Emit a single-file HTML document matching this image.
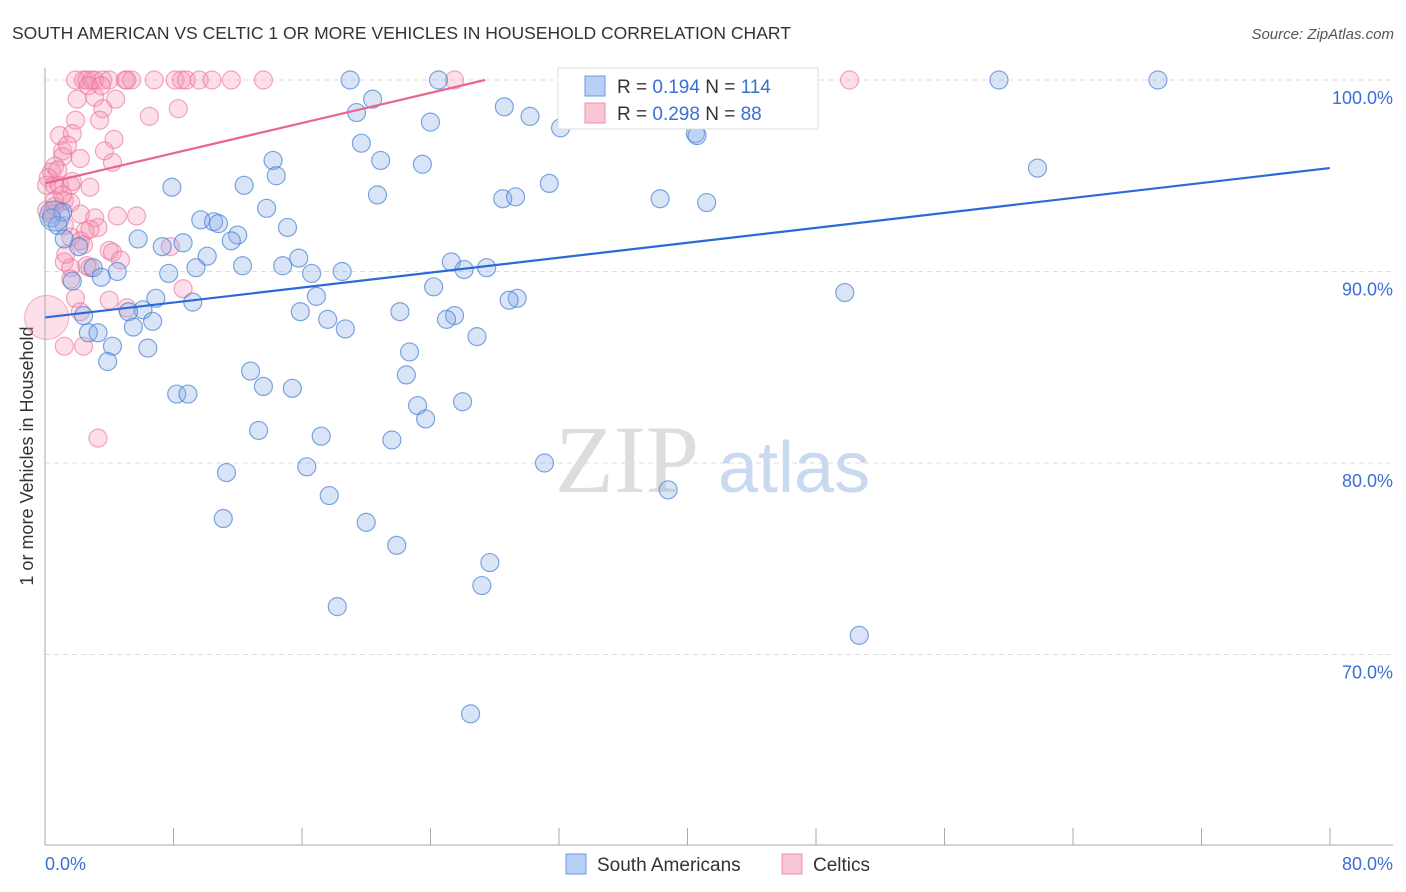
<!DOCTYPE html>
<html><head><meta charset="utf-8"><style>
body{margin:0;background:#fff;font-family:"Liberation Sans",sans-serif}
#wrap{position:relative;width:1406px;height:892px;overflow:hidden}
</style></head><body>
<div id="wrap">
<svg id="svg" width="1406" height="892" xmlns="http://www.w3.org/2000/svg">
<text x="12" y="39" font-size="17.5" fill="#333">SOUTH AMERICAN VS CELTIC 1 OR MORE VEHICLES IN HOUSEHOLD CORRELATION CHART</text>
<text x="1394" y="39" font-size="15" fill="#555" font-style="italic" text-anchor="end">Source: ZipAtlas.com</text>
<text transform="translate(33,456) rotate(-90)" font-size="18" fill="#333" text-anchor="middle">1 or more Vehicles in Household</text>
<g id="grid"></g>
<text x="555" y="492" font-size="96" fill="#ddd" font-family="Liberation Serif,serif">ZIP</text>
<text x="718" y="492" font-size="72" fill="#c9d9f0">atlas</text>
<g id="pts"></g>
<g id="lines"></g>
<line x1="45" y1="68" x2="45" y2="845" stroke="#aaa"/>
<line x1="45" y1="845" x2="1393" y2="845" stroke="#aaa"/>
<g id="xt"></g>
<text x="45" y="870" font-size="18" fill="#3b6fd4">0.0%</text>
<text x="1393" y="870" font-size="18" fill="#3b6fd4" text-anchor="end">80.0%</text>
<g>
<rect x="558" y="68" width="260" height="61" fill="#fff" stroke="#ddd"/>
<rect x="585" y="76" width="20" height="20" fill="#b8d0f5" stroke="#6a98e0"/>
<rect x="585" y="103" width="20" height="20" fill="#f9c6d6" stroke="#ec8fae"/>
<text x="617" y="93" font-size="19" fill="#333">R = <tspan fill="#3b6fd4">0.194</tspan>   N = <tspan fill="#3b6fd4">114</tspan></text>
<text x="617" y="120" font-size="19" fill="#333">R = <tspan fill="#3b6fd4">0.298</tspan>   N = <tspan fill="#3b6fd4"> 88</tspan></text>
</g>
<g>
<rect x="566" y="854" width="20" height="20" fill="#b8d0f5" stroke="#6a98e0"/>
<text x="597" y="871" font-size="19" fill="#333">South Americans</text>
<rect x="782" y="854" width="20" height="20" fill="#f9c6d6" stroke="#ec8fae"/>
<text x="813" y="871" font-size="19" fill="#333">Celtics</text>
</g>
</svg>
</div>
<script>
const blueX=[19.0,24.5,32.6,38.8,59.4,69.3,42.4,20.4,19.4,28.6,30.2,24.0,32.1,40.5,40.6,19.7,20.9,14.2,23.5,14.4,61.8,31.4,7.9,12.4,20.7,28.5,29.3,38.3,41.2,13.8,1.1,0.4,9.7,10.5,10.8,15.1,0.8,1.2,5.8,12.0,11.6,8.6,2.1,7.3,10.1,15.8,25.3,12.3,14.8,9.4,3.0,4.5,7.7,16.6,18.5,26.1,27.5,1.7,3.5,24.2,6.9,9.2,16.9,29.4,28.9,49.8,15.9,22.1,6.1,5.2,25.5,25.0,17.6,6.7,2.4,5.5,18.7,2.7,3.3,26.9,4.2,6.4,22.7,3.9,12.8,22.5,13.6,15.4,8.2,8.9,26.0,23.2,23.7,13.3,17.2,21.6,31.1,16.3,11.3,38.8,17.7,11.1,20.0,21.9,27.7,27.2,18.2,50.7,26.5];
const blueY=[100,100,100,100,100,100,98.6,99.0,98.3,98.6,98.1,97.8,97.5,97.2,97.1,96.7,95.8,95.8,95.6,95.0,95.4,94.6,94.4,94.5,94.0,93.8,93.9,93.8,93.6,93.3,93.1,92.8,92.7,92.6,92.5,92.3,92.4,91.7,91.7,91.9,91.6,91.5,91.3,91.3,90.8,90.7,90.5,90.3,90.3,90.2,90.2,90.0,89.9,89.9,90.0,90.1,90.2,89.5,89.7,89.2,88.6,88.4,88.7,88.6,88.5,88.9,87.9,87.9,88.0,87.9,87.7,87.5,87.5,87.4,87.7,87.1,87.0,86.8,86.8,86.6,86.1,86.0,85.8,85.3,84.8,84.6,84.0,83.9,83.6,83.6,83.2,83.0,82.3,81.7,81.4,81.2,80.0,79.8,79.5,78.6,78.3,77.1,76.9,75.7,74.8,73.6,72.5,71.0,66.9];
const pinkX=[1.9,2.4,2.6,2.9,3.1,3.6,4.0,5.0,5.1,5.4,6.8,8.1,8.5,8.8,9.6,10.4,11.6,13.6,25.5,50.1,2.7,2.0,3.1,3.6,8.3,6.5,4.3,1.9,0.9,1.7,1.1,1.1,4.2,2.2,0.6,0.4,0.2,0.1,0.6,0.9,1.6,2.8,1.2,1.6,0.6,0.1,0.4,2.2,3.1,4.5,5.7,3.3,2.5,1.6,2.4,4.0,4.2,7.8,1.2,1.6,2.8,2.6,1.9,2.2,5.1,8.6,1.2,2.4,3.3,1.2,1.7,3.5,1.4,0.6,2.2,4.0,0.8,1.1,1.3,2.8,3.4,4.4,3.7,1.6,4.7];
const pinkY=[100,100,100,100,100,100,100,100,100,100,100,100,100,100,100,100,100,100,100,100,99.7,99.0,99.1,98.5,98.5,98.1,96.9,97.9,97.1,97.2,96.3,96.0,95.7,95.9,95.5,95.2,94.9,94.5,94.5,94.5,94.5,94.4,93.7,93.6,93.4,93.2,93.0,93.0,92.8,92.9,92.9,92.3,92.1,91.8,91.4,91.1,91.0,91.3,90.5,90.2,90.2,90.3,88.6,87.9,88.1,89.1,86.1,86.1,81.3,92.4,94.7,99.7,96.6,93.7,91.6,88.5,95.3,94.0,90.9,92.2,97.9,99.0,96.3,89.6,90.6];
const yTicks=[100,90,80,70];
const yTickLabels=["100.0%","90.0%","80.0%","70.0%"];
const blueTrend=[87.6,95.4]; // y at x=0, x=80
const pinkTrend=[94.6,100,27.4]; // y at x=0, y at end, end x
const NS="http://www.w3.org/2000/svg";
const sx=v=>45+v*16.06, sy=v=>80+(100-v)*19.15;
function mk(tag,attrs,parent){const e=document.createElementNS(NS,tag);for(const k in attrs)e.setAttribute(k,attrs[k]);parent.appendChild(e);return e;}
const grid=document.getElementById('grid');
yTicks.forEach((t,i)=>{
 const l=mk('line',{x1:45,x2:1393,y1:sy(t),y2:sy(t),stroke:'#ddd','stroke-dasharray':'5,4'},grid);
 
 
 const tx=mk('text',{x:1393,y:sy(t)+24,'font-size':18,fill:'#3b6fd4','text-anchor':'end'},grid);
 tx.textContent=yTickLabels[i];
 
 
});
const xt=document.getElementById('xt');
for(let i=0;i<=10;i++){const x=45+i*128.5;const l=mk('line',{x1:x,x2:x,y1:828,y2:845,stroke:'#aaa'},xt);
 
 }
const pts=document.getElementById('pts');
pinkX.forEach((x,i)=>{const r=(i===pinkX.length-1-19)?9:9;const c=mk('circle',{cx:sx(x),cy:sy(pinkY[i]),r:r,fill:'rgba(244,150,180,0.3)',stroke:'rgba(236,110,150,0.6)','stroke-width':1.2},pts);
 
 });
const bigP=mk('circle',{cx:sx(0.1),cy:sy(87.6),r:22,fill:'rgba(244,150,180,0.3)',stroke:'rgba(236,110,150,0.5)'},pts);


blueX.forEach((x,i)=>{const c=mk('circle',{cx:sx(x),cy:sy(blueY[i]),r:9,fill:'rgba(130,170,230,0.3)',stroke:'rgba(60,120,210,0.65)','stroke-width':1.2},pts);
 
 });
const bigB=mk('circle',{cx:sx(0.6),cy:sy(92.9),r:15,fill:'rgba(130,170,230,0.35)',stroke:'rgba(60,120,210,0.65)'},pts);


const lines=document.getElementById('lines');
const bl=mk('line',{x1:sx(0),y1:sy(blueTrend[0]),x2:sx(80),y2:sy(blueTrend[1]),stroke:'#2a6ad6','stroke-width':2.2},lines);


const pl=mk('line',{x1:sx(0),y1:sy(pinkTrend[0]),x2:sx(pinkTrend[2]),y2:sy(pinkTrend[1]),stroke:'#e9668f','stroke-width':2.2},lines);


</script>
</body></html>
